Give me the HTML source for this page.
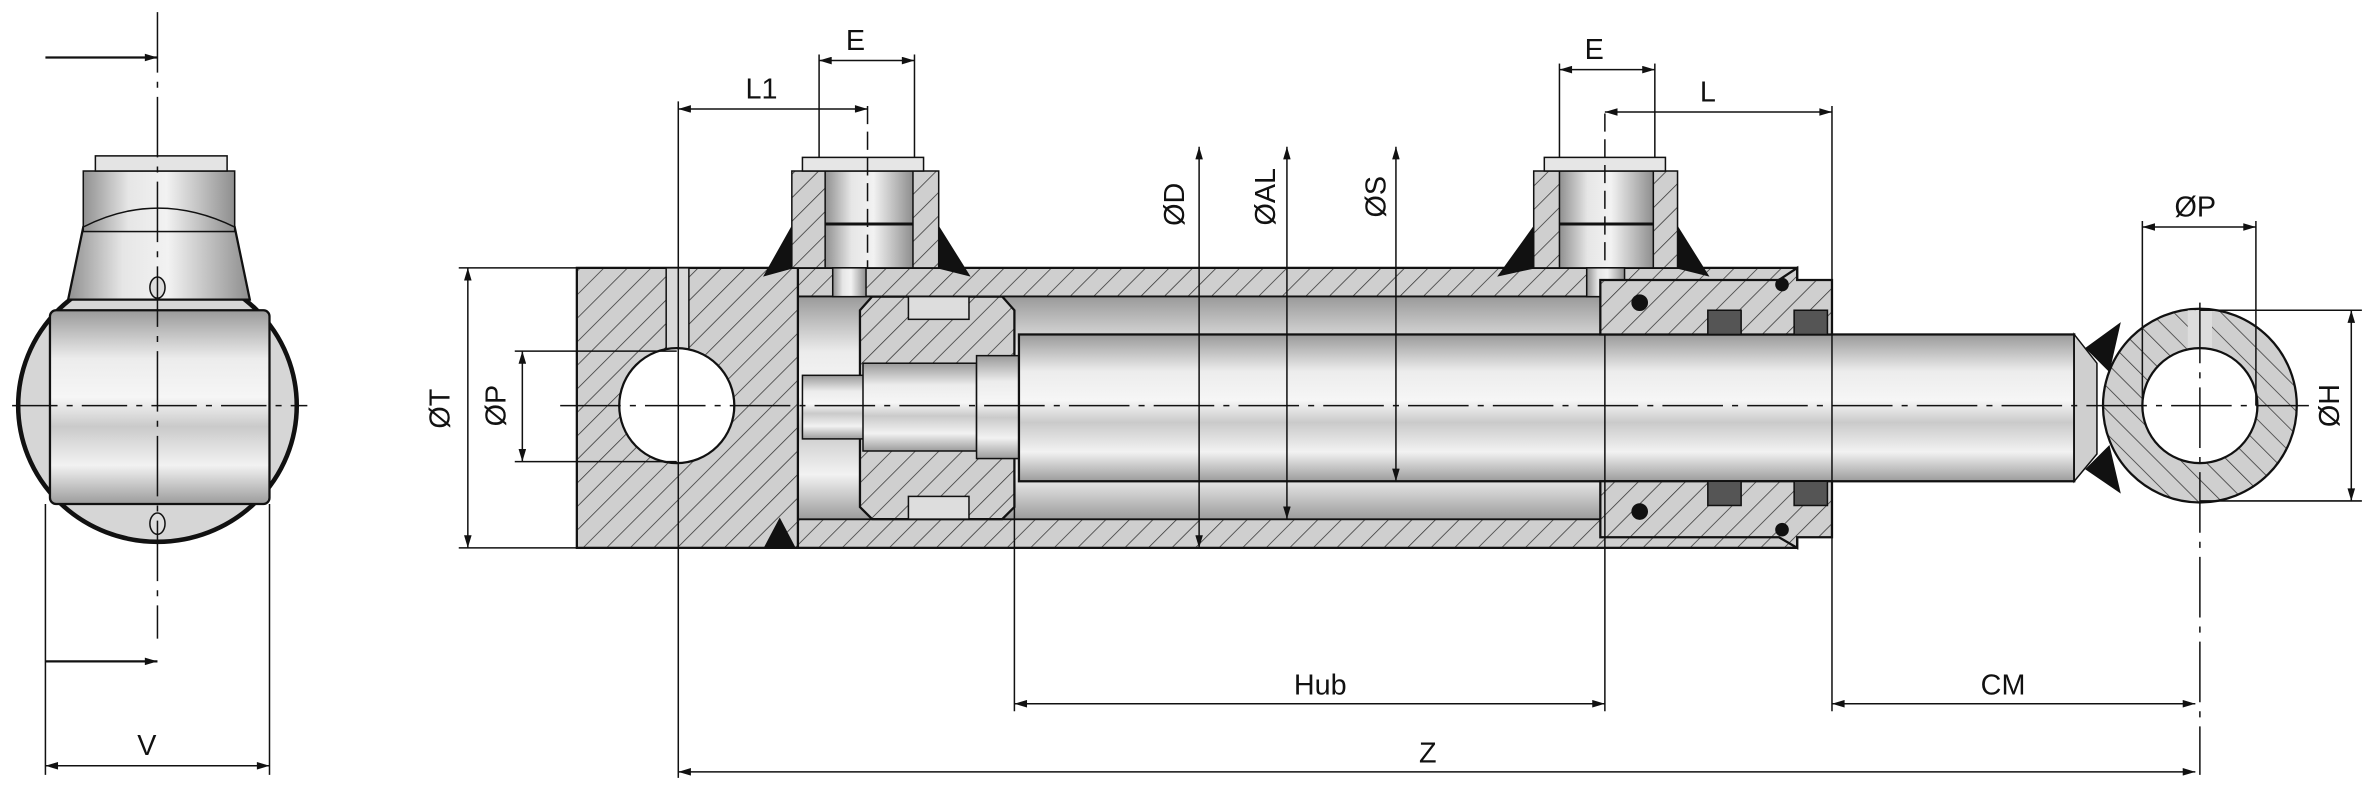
<!DOCTYPE html>
<html><head><meta charset="utf-8"><style>
html,body{margin:0;padding:0;background:#fff;}
svg{display:block;}
text{font-family:"Liberation Sans",sans-serif;font-size:19px;fill:#111;}
</style></head><body>
<svg width="2374" height="790" viewBox="0 0 1568 522" preserveAspectRatio="none" xmlns="http://www.w3.org/2000/svg">
<defs>
<pattern id="h" width="11" height="11" patternUnits="userSpaceOnUse" patternTransform="rotate(45)">
<rect width="11" height="11" fill="#cfcfcf"/><line x1="0" y1="0" x2="0" y2="11" stroke="#333" stroke-width="1"/></pattern>
<pattern id="h2" width="11" height="11" patternUnits="userSpaceOnUse" patternTransform="rotate(-45)">
<rect width="11" height="11" fill="#cfcfcf"/><line x1="0" y1="0" x2="0" y2="11" stroke="#333" stroke-width="1"/></pattern>
<linearGradient id="gv" x1="0" y1="0" x2="0" y2="1">
<stop offset="0" stop-color="#9a9a9a"/><stop offset=".25" stop-color="#ececec"/><stop offset=".45" stop-color="#f6f6f6"/><stop offset=".6" stop-color="#cacaca"/><stop offset=".8" stop-color="#f2f2f2"/><stop offset="1" stop-color="#9c9c9c"/></linearGradient>
<linearGradient id="gh" x1="0" y1="0" x2="1" y2="0">
<stop offset="0" stop-color="#909090"/><stop offset=".3" stop-color="#e6e6e6"/><stop offset=".55" stop-color="#f2f2f2"/><stop offset=".8" stop-color="#bbbbbb"/><stop offset="1" stop-color="#8e8e8e"/></linearGradient>
<marker id="a" viewBox="0 0 10 6" refX="10" refY="3" markerWidth="9" markerHeight="5" markerUnits="userSpaceOnUse" orient="auto-start-reverse"><path d="M0,0 L10,3 L0,6z" fill="#111"/></marker>
</defs>
<g stroke="#111" stroke-width="1" fill="none">
<!-- LEFT VIEW -->
<ellipse cx="104" cy="268" rx="92" ry="90" fill="#d6d6d6" stroke-width="3"/>
<path d="M45,198 L55,150 L155,150 L165,198 Z" fill="url(#gh)" stroke-width="1.5"/>
<rect x="55" y="113" width="100" height="40" fill="url(#gh)"/>
<rect x="63" y="103" width="87" height="10" fill="#e4e4e4"/>
<path d="M55,150 Q104,125 155,150" fill="none"/>
<rect x="33" y="205" width="145" height="128" rx="4" fill="url(#gv)" stroke-width="1.5"/>
<ellipse cx="104" cy="190" rx="5" ry="7" fill="#ddd"/>
<ellipse cx="104" cy="346" rx="5" ry="7" fill="#ddd"/>
<line x1="104" y1="8" x2="104" y2="422" stroke-dasharray="40,6,4,6"/>
<line x1="8" y1="268" x2="203" y2="268" stroke-dasharray="30,6,4,6"/>
<line x1="30" y1="38" x2="104" y2="38" stroke-width="1.5" marker-end="url(#a)"/>
<line x1="30" y1="437" x2="104" y2="437" stroke-width="1.5" marker-end="url(#a)"/>
<line x1="30" y1="333" x2="30" y2="512"/><line x1="178" y1="333" x2="178" y2="512"/>
<line x1="30" y1="506" x2="178" y2="506" marker-start="url(#a)" marker-end="url(#a)"/>

<!-- MAIN VIEW -->
<rect x="527" y="177" width="660" height="19" fill="url(#h)" stroke-width="1.5"/>
<rect x="527" y="343" width="660" height="19" fill="url(#h)" stroke-width="1.5"/>
<rect x="527" y="196" width="530" height="147" fill="url(#gv)"/>
<rect x="381" y="177" width="146" height="185" fill="url(#h)" stroke-width="1.5"/>
<rect x="440" y="177" width="15" height="60" fill="#d8d8d8"/>
<circle cx="447" cy="268" r="38" fill="#fff" stroke-width="1.5"/>
<path d="M505,182 L523,150 L523,177Z M640,182 L620,150 L620,177Z" fill="#111"/>
<rect x="523" y="113" width="97" height="64" fill="url(#h)"/>
<rect x="545" y="113" width="58" height="64" fill="url(#gh)"/>
<rect x="530" y="104" width="80" height="9" fill="#e6e6e6"/>
<line x1="545" y1="148" x2="603" y2="148" stroke-width="2"/>
<rect x="550" y="177" width="22" height="19" fill="url(#gh)"/>
<path d="M990,182 L1013,150 L1013,177Z M1128,182 L1108,150 L1108,177Z" fill="#111"/>
<rect x="1013" y="113" width="95" height="64" fill="url(#h)"/>
<rect x="1030" y="113" width="62" height="64" fill="url(#gh)"/>
<rect x="1020" y="104" width="80" height="9" fill="#e6e6e6"/>
<line x1="1030" y1="148" x2="1092" y2="148" stroke-width="2"/>
<rect x="1048" y="177" width="25" height="19" fill="url(#gh)"/>
<path d="M505,362 L515,343 L525,362Z" fill="#111"/>
<path d="M576,196 L662,196 L670,205 L670,335 L662,343 L576,343 L568,335 L568,205Z" fill="url(#h)" stroke-width="1.5"/>
<rect x="600" y="196" width="40" height="15" fill="#ddd"/><rect x="600" y="328" width="40" height="15" fill="#ddd"/>
<rect x="530" y="248" width="45" height="42" fill="url(#gv)"/>
<rect x="570" y="240" width="75" height="58" fill="url(#gv)"/>
<rect x="645" y="235" width="28" height="68" fill="url(#gv)"/>
<rect x="673" y="221" width="697" height="97" fill="url(#gv)" stroke-width="1.5"/>
<path d="M1370,221 L1385,240 L1385,300 L1370,318Z" fill="#cfcfcf"/>
<path d="M1378,230 L1400,214 L1393,245Z M1378,310 L1400,325 L1393,295Z" fill="#111"/>
<path d="M1057,185 L1175,185 L1187,177 L1187,185 L1210,185 L1210,221 L1057,221Z" fill="url(#h)" stroke-width="1.5"/>
<path d="M1057,318 L1210,318 L1210,355 L1187,355 L1187,362 L1175,355 L1057,355Z" fill="url(#h)" stroke-width="1.5"/>
<rect x="1128" y="205" width="22" height="16" fill="#555"/><rect x="1185" y="205" width="22" height="16" fill="#555"/>
<rect x="1128" y="318" width="22" height="16" fill="#555"/><rect x="1185" y="318" width="22" height="16" fill="#555"/>
<circle cx="1083" cy="200" r="5" fill="#111"/><circle cx="1083" cy="338" r="5" fill="#111"/>
<circle cx="1177" cy="188" r="4" fill="#111"/><circle cx="1177" cy="350" r="4" fill="#111"/>
<circle cx="1453" cy="268" r="64" fill="url(#h2)" stroke-width="1.5"/>
<rect x="1445" y="205" width="16" height="28" fill="#ddd" stroke="none"/>
<circle cx="1453" cy="268" r="38" fill="#fff" stroke-width="1.5"/>
<line x1="370" y1="268" x2="1525" y2="268" stroke-dasharray="40,6,4,6"/>
<line x1="1453" y1="200" x2="1453" y2="512" stroke-dasharray="40,6,4,6"/>
<line x1="573" y1="70" x2="573" y2="177" stroke-dasharray="12,5"/>
<line x1="1060" y1="75" x2="1060" y2="177" stroke-dasharray="12,5"/>
<line x1="448" y1="67" x2="448" y2="514"/>
<line x1="448" y1="72" x2="573" y2="72" marker-start="url(#a)" marker-end="url(#a)"/>
<line x1="541" y1="36" x2="541" y2="104"/><line x1="604" y1="36" x2="604" y2="104"/>
<line x1="541" y1="40" x2="604" y2="40" marker-start="url(#a)" marker-end="url(#a)"/>
<line x1="1030" y1="42" x2="1030" y2="104"/><line x1="1093" y1="42" x2="1093" y2="104"/>
<line x1="1030" y1="46" x2="1093" y2="46" marker-start="url(#a)" marker-end="url(#a)"/>
<line x1="1060" y1="74" x2="1210" y2="74" marker-start="url(#a)" marker-end="url(#a)"/>
<line x1="1210" y1="70" x2="1210" y2="470"/>
<line x1="1060" y1="221" x2="1060" y2="470"/>
<line x1="792" y1="97" x2="792" y2="362" marker-start="url(#a)" marker-end="url(#a)"/>
<line x1="850" y1="97" x2="850" y2="343" marker-start="url(#a)" marker-end="url(#a)"/>
<line x1="922" y1="97" x2="922" y2="318" marker-start="url(#a)" marker-end="url(#a)"/>
<line x1="1415" y1="146" x2="1415" y2="268"/><line x1="1490" y1="146" x2="1490" y2="268"/>
<line x1="1415" y1="150" x2="1490" y2="150" marker-start="url(#a)" marker-end="url(#a)"/>
<line x1="1453" y1="205" x2="1560" y2="205"/><line x1="1453" y1="331" x2="1560" y2="331"/>
<line x1="1553" y1="205" x2="1553" y2="331" marker-start="url(#a)" marker-end="url(#a)"/>
<line x1="303" y1="177" x2="381" y2="177"/><line x1="303" y1="362" x2="381" y2="362"/>
<line x1="309" y1="177" x2="309" y2="362" marker-start="url(#a)" marker-end="url(#a)"/>
<line x1="340" y1="232" x2="447" y2="232"/><line x1="340" y1="305" x2="447" y2="305"/>
<line x1="345" y1="232" x2="345" y2="305" marker-start="url(#a)" marker-end="url(#a)"/>
<line x1="670" y1="318" x2="670" y2="470"/>
<line x1="670" y1="465" x2="1060" y2="465" marker-start="url(#a)" marker-end="url(#a)"/>
<line x1="1210" y1="465" x2="1450" y2="465" marker-start="url(#a)" marker-end="url(#a)"/>
<line x1="448" y1="510" x2="1450" y2="510" marker-start="url(#a)" marker-end="url(#a)"/>
</g>
<g>
<text x="97" y="499" text-anchor="middle">V</text>
<text x="503" y="65" text-anchor="middle">L1</text>
<text x="565" y="33" text-anchor="middle">E</text>
<text x="1053" y="39" text-anchor="middle">E</text>
<text x="1128" y="67" text-anchor="middle">L</text>
<text x="1450" y="143" text-anchor="middle">ØP</text>
<text x="872" y="459" text-anchor="middle">Hub</text>
<text x="1323" y="459" text-anchor="middle">CM</text>
<text x="943" y="504" text-anchor="middle">Z</text>
<text transform="translate(782,135) rotate(-90)" text-anchor="middle">ØD</text>
<text transform="translate(842,130) rotate(-90)" text-anchor="middle">ØAL</text>
<text transform="translate(915,130) rotate(-90)" text-anchor="middle">ØS</text>
<text transform="translate(297,270) rotate(-90)" text-anchor="middle">ØT</text>
<text transform="translate(334,268) rotate(-90)" text-anchor="middle">ØP</text>
<text transform="translate(1545,268) rotate(-90)" text-anchor="middle">ØH</text>
</g>
</svg>
</body></html>
